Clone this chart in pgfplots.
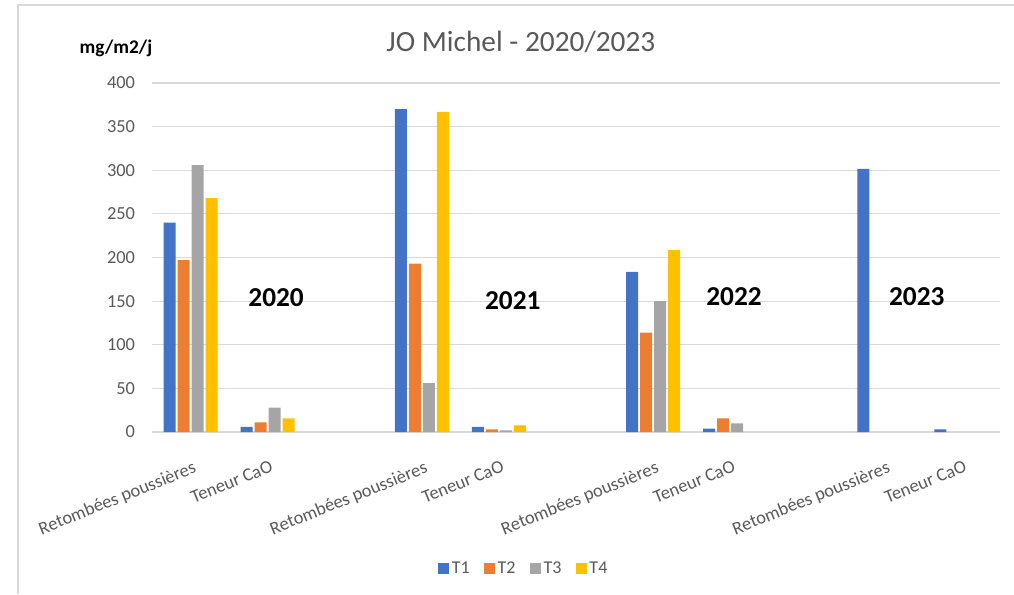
\documentclass[border=0pt]{standalone}
\usepackage{fontspec}
\setmainfont{Carlito}
\usepackage{pgfplots}
\pgfplotsset{compat=1.18}
\definecolor{cA}{HTML}{4472C4}
\definecolor{cB}{HTML}{ED7D31}
\definecolor{cC}{HTML}{A5A5A5}
\definecolor{cD}{HTML}{FFC000}
\definecolor{gridc}{HTML}{D9D9D9}
\definecolor{txtc}{HTML}{595959}
\begin{document}
\begin{tikzpicture}
\useasboundingbox (-114pt,-121.5pt) rectangle (646.5pt,324pt);
\draw[gridc, line width=1.1pt] (-100.5pt,-121.5pt) -- (-100.5pt,320.25pt) -- (646.5pt,320.25pt);
\begin{axis}[
  at={(0,0)}, anchor=south west,
  scale only axis, width=636pt, height=261.75pt,
  xmin=-0.5, xmax=10.5, ymin=0, ymax=400,
  ybar=1.5pt, bar width=9pt,
  every axis plot post/.append style={legend image code/.code={\fill[##1] (0pt,-4pt) rectangle (8pt,4pt);}},
  ytick={0,50,...,400},
  ymajorgrids, grid style={line width=0.9pt, gridc},
  axis lines*=left,
  y axis line style={draw=none},
  x axis line style={gridc, line width=0.9pt},
  major tick length=0pt,
  xtick={0,1,3,4,6,7,9,10},
  xticklabels={Retombées poussières, Teneur CaO, Retombées poussières, Teneur CaO, Retombées poussières, Teneur CaO, Retombées poussières, Teneur CaO},
  xticklabel style={rotate=22, anchor=north east, font=\fontsize{13.8}{15}\selectfont, text=txtc, inner sep=1pt, yshift=-19pt, xshift=-5.5pt},
  yticklabel style={font=\fontsize{13.8}{15}\selectfont, text=txtc, inner sep=0pt, xshift=-12.5pt},
  /pgf/number format/assume math mode=true,
  legend style={at={(0.439,-0.391)}, anchor=center, draw=none, legend columns=-1,
    font=\fontsize{13.5}{15}\selectfont, text=txtc,
    /tikz/every even column/.append style={column sep=9pt}},
  clip=false,
]
\addplot[fill=cA, draw=none] coordinates {(0,240) (1,6) (3,370) (4,6) (6,183.5) (7,4) (9,301.5) (10,3)};
\addplot[fill=cB, draw=none] coordinates {(0,197) (1,11) (3,193) (4,3) (6,114) (7,15.7)};
\addplot[fill=cC, draw=none] coordinates {(0,306) (1,28) (3,56) (4,2) (6,150) (7,10)};
\addplot[fill=cD, draw=none] coordinates {(0,268) (1,15.7) (3,367) (4,7.7) (6,208.4)};
\legend{T1,T2,T3,T4}
\node[font=\fontsize{20.5}{22}\selectfont\bfseries] at (axis cs:1.11,153.6) {2020};
\node[font=\fontsize{20.5}{22}\selectfont\bfseries] at (axis cs:4.18,151) {2021};
\node[font=\fontsize{20.5}{22}\selectfont\bfseries] at (axis cs:7.05,155) {2022};
\node[font=\fontsize{20.5}{22}\selectfont\bfseries] at (axis cs:9.42,155) {2023};
\node[font=\fontsize{22}{24}\selectfont, text=txtc] at (rel axis cs:0.435,1.117) {JO Michel - 2020/2023};
\node[font=\fontsize{14.5}{16}\selectfont\bfseries] at (rel axis cs:-0.0425,1.100) {mg/m2/j};
\end{axis}
\end{tikzpicture}
\end{document}
